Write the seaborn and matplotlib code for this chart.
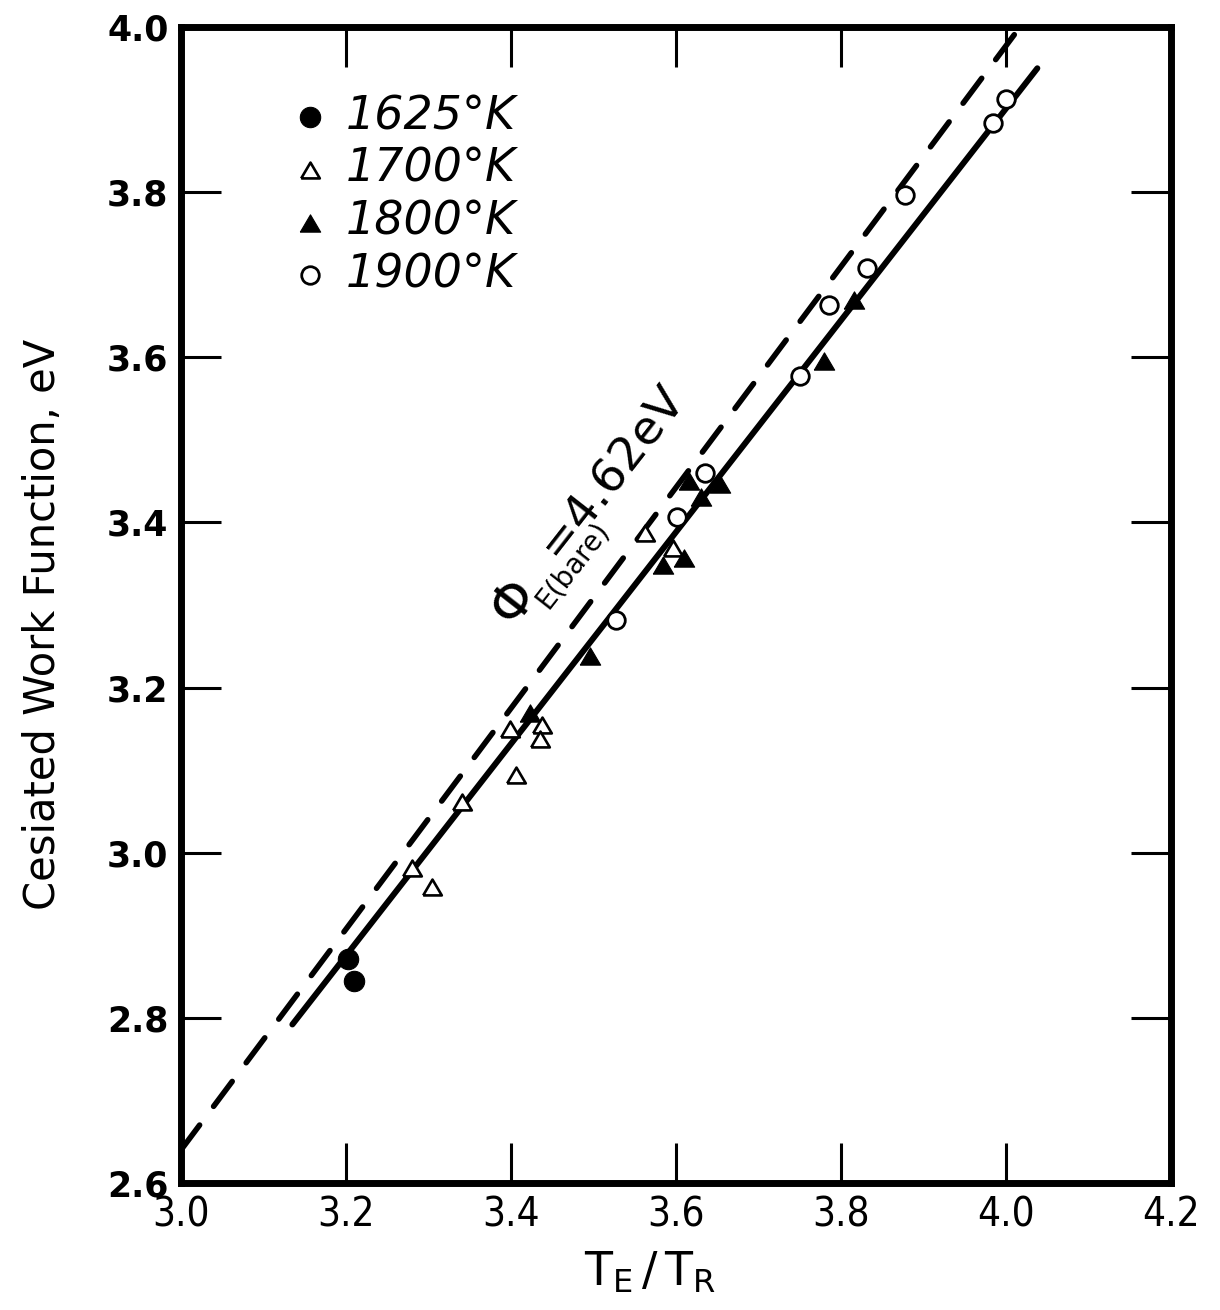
import matplotlib
matplotlib.use("Agg")
import matplotlib.pyplot as plt
import pandas as pd
import seaborn as sns

# Cesiated work function against emitter / reservoir temperature ratio
t1625_x = [3.203, 3.210]
t1625_y = [2.871, 2.845]

t1700_x = [3.280, 3.304, 3.341, 3.406, 3.399, 3.438, 3.435, 3.563, 3.596]
t1700_y = [2.981, 2.959, 3.061, 3.094, 3.150, 3.155, 3.138, 3.387, 3.369]

t1800_x = [3.423, 3.496, 3.584, 3.610, 3.616, 3.630, 3.653, 3.779, 3.816]
t1800_y = [3.169, 3.238, 3.349, 3.357, 3.450, 3.431, 3.446, 3.596, 3.669]

t1900_x = [3.527, 3.601, 3.635, 3.750, 3.785, 3.832, 3.877, 3.984, 4.000]
t1900_y = [3.282, 3.406, 3.460, 3.577, 3.663, 3.708, 3.796, 3.884, 3.913]

series_labels = ["1625°K", "1700°K", "1800°K", "1900°K"]

# straight-line fit through the data, and the bare-emitter reference line
fit_x = [3.135, 4.038]
fit_y = [2.792, 3.950]
bare_x = [3.000, 4.017]
bare_y = [2.640, 4.000]

x_ticks = [3.0, 3.2, 3.4, 3.6, 3.8, 4.0, 4.2]
x_tick_labels = ["3.0", "3.2", "3.4", "3.6", "3.8", "4.0", "4.2"]
y_ticks = [2.6, 2.8, 3.0, 3.2, 3.4, 3.6, 3.8, 4.0]
y_tick_labels = ["2.6", "2.8", "3.0", "3.2", "3.4", "3.6", "3.8", "4.0"]

sns.set_style("ticks")
plt.rcParams["font.family"] = ["DejaVu Sans"]
plt.rcParams["mathtext.fontset"] = "dejavusans"
for key in ("text.color", "axes.labelcolor", "xtick.color", "ytick.color",
            "axes.edgecolor"):
    plt.rcParams[key] = "black"

fig = plt.figure(figsize=(12.2, 13.1), dpi=100)
ax = fig.add_axes([181 / 1220, 1 - 1183 / 1310, 990 / 1220, 1156 / 1310])

# lines
sns.lineplot(x=bare_x, y=bare_y, ax=ax, color="black", lw=4.0,
             linestyle=(0, (5.6, 4.2)), dash_capstyle="round", zorder=2)
sns.lineplot(x=fit_x, y=fit_y, ax=ax, color="black", lw=4.3,
             solid_capstyle="round", zorder=2)

# equilateral-ish triangle marker, wider than tall
tri = [(-1.0, -0.85), (1.0, -0.85), (0.0, 0.85), (-1.0, -0.85)]

frames = {
    series_labels[0]: pd.DataFrame({"x": t1625_x, "y": t1625_y}),
    series_labels[1]: pd.DataFrame({"x": t1700_x, "y": t1700_y}),
    series_labels[2]: pd.DataFrame({"x": t1800_x, "y": t1800_y}),
    series_labels[3]: pd.DataFrame({"x": t1900_x, "y": t1900_y}),
}
styles = {
    series_labels[0]: dict(marker="o", color="black", s=215, linewidth=0.8),
    series_labels[1]: dict(marker=tri, color="white", s=180, linewidth=1.9),
    series_labels[2]: dict(marker=tri, color="black", s=215, linewidth=0.8),
    series_labels[3]: dict(marker="o", color="white", s=160, linewidth=2.0),
}
for name, df in frames.items():
    sns.scatterplot(data=df, x="x", y="y", ax=ax, edgecolor="black",
                    label=name, zorder=3, **styles[name])

ax.set_xlim(3.0, 4.2)
ax.set_ylim(2.6, 4.0)
ax.set_xticks(x_ticks, labels=x_tick_labels, fontsize=29, fontstretch="condensed")
ax.set_yticks(y_ticks, labels=y_tick_labels, fontsize=25, fontweight="bold")
ax.tick_params(direction="in", length=29, width=2.2, top=True, right=True,
               color="black", labelcolor="black")
ax.tick_params(axis="x", pad=9)
ax.tick_params(axis="y", pad=9)
for sp in ax.spines.values():
    sp.set_linewidth(5)
    sp.set_color("black")

ax.set_xlabel(r"$\mathsf{T_E\,/\,T_R}$", fontsize=33, color="black")
ax.xaxis.set_label_coords(0.474, -0.058)
ax.set_ylabel("Cesiated Work Function, eV", fontsize=30, color="black")
ax.yaxis.set_label_coords(-0.118, 0.483)

leg = ax.legend(loc="upper left", bbox_to_anchor=(0.109, 0.942), frameon=False,
                prop={"size": 33, "style": "italic"}, handlelength=0.9,
                handletextpad=0.35, labelspacing=0.17, borderpad=0,
                borderaxespad=0, scatterpoints=1, labelcolor="black")

# label along the bare-emitter line
ang = 52
ax.text(3.404, 3.300, r"$\Phi$", fontsize=38, rotation=ang, ha="center",
        va="center", rotation_mode="anchor", color="black")
ax.text(3.474, 3.348, "E(bare)", fontsize=20, rotation=ang, ha="center",
        va="center", rotation_mode="anchor", color="black")
ax.text(3.523, 3.462, "=4.62eV", fontsize=34, rotation=ang, ha="center",
        va="center", rotation_mode="anchor", color="black")

fig.savefig("out.png", dpi=100, facecolor="white")
